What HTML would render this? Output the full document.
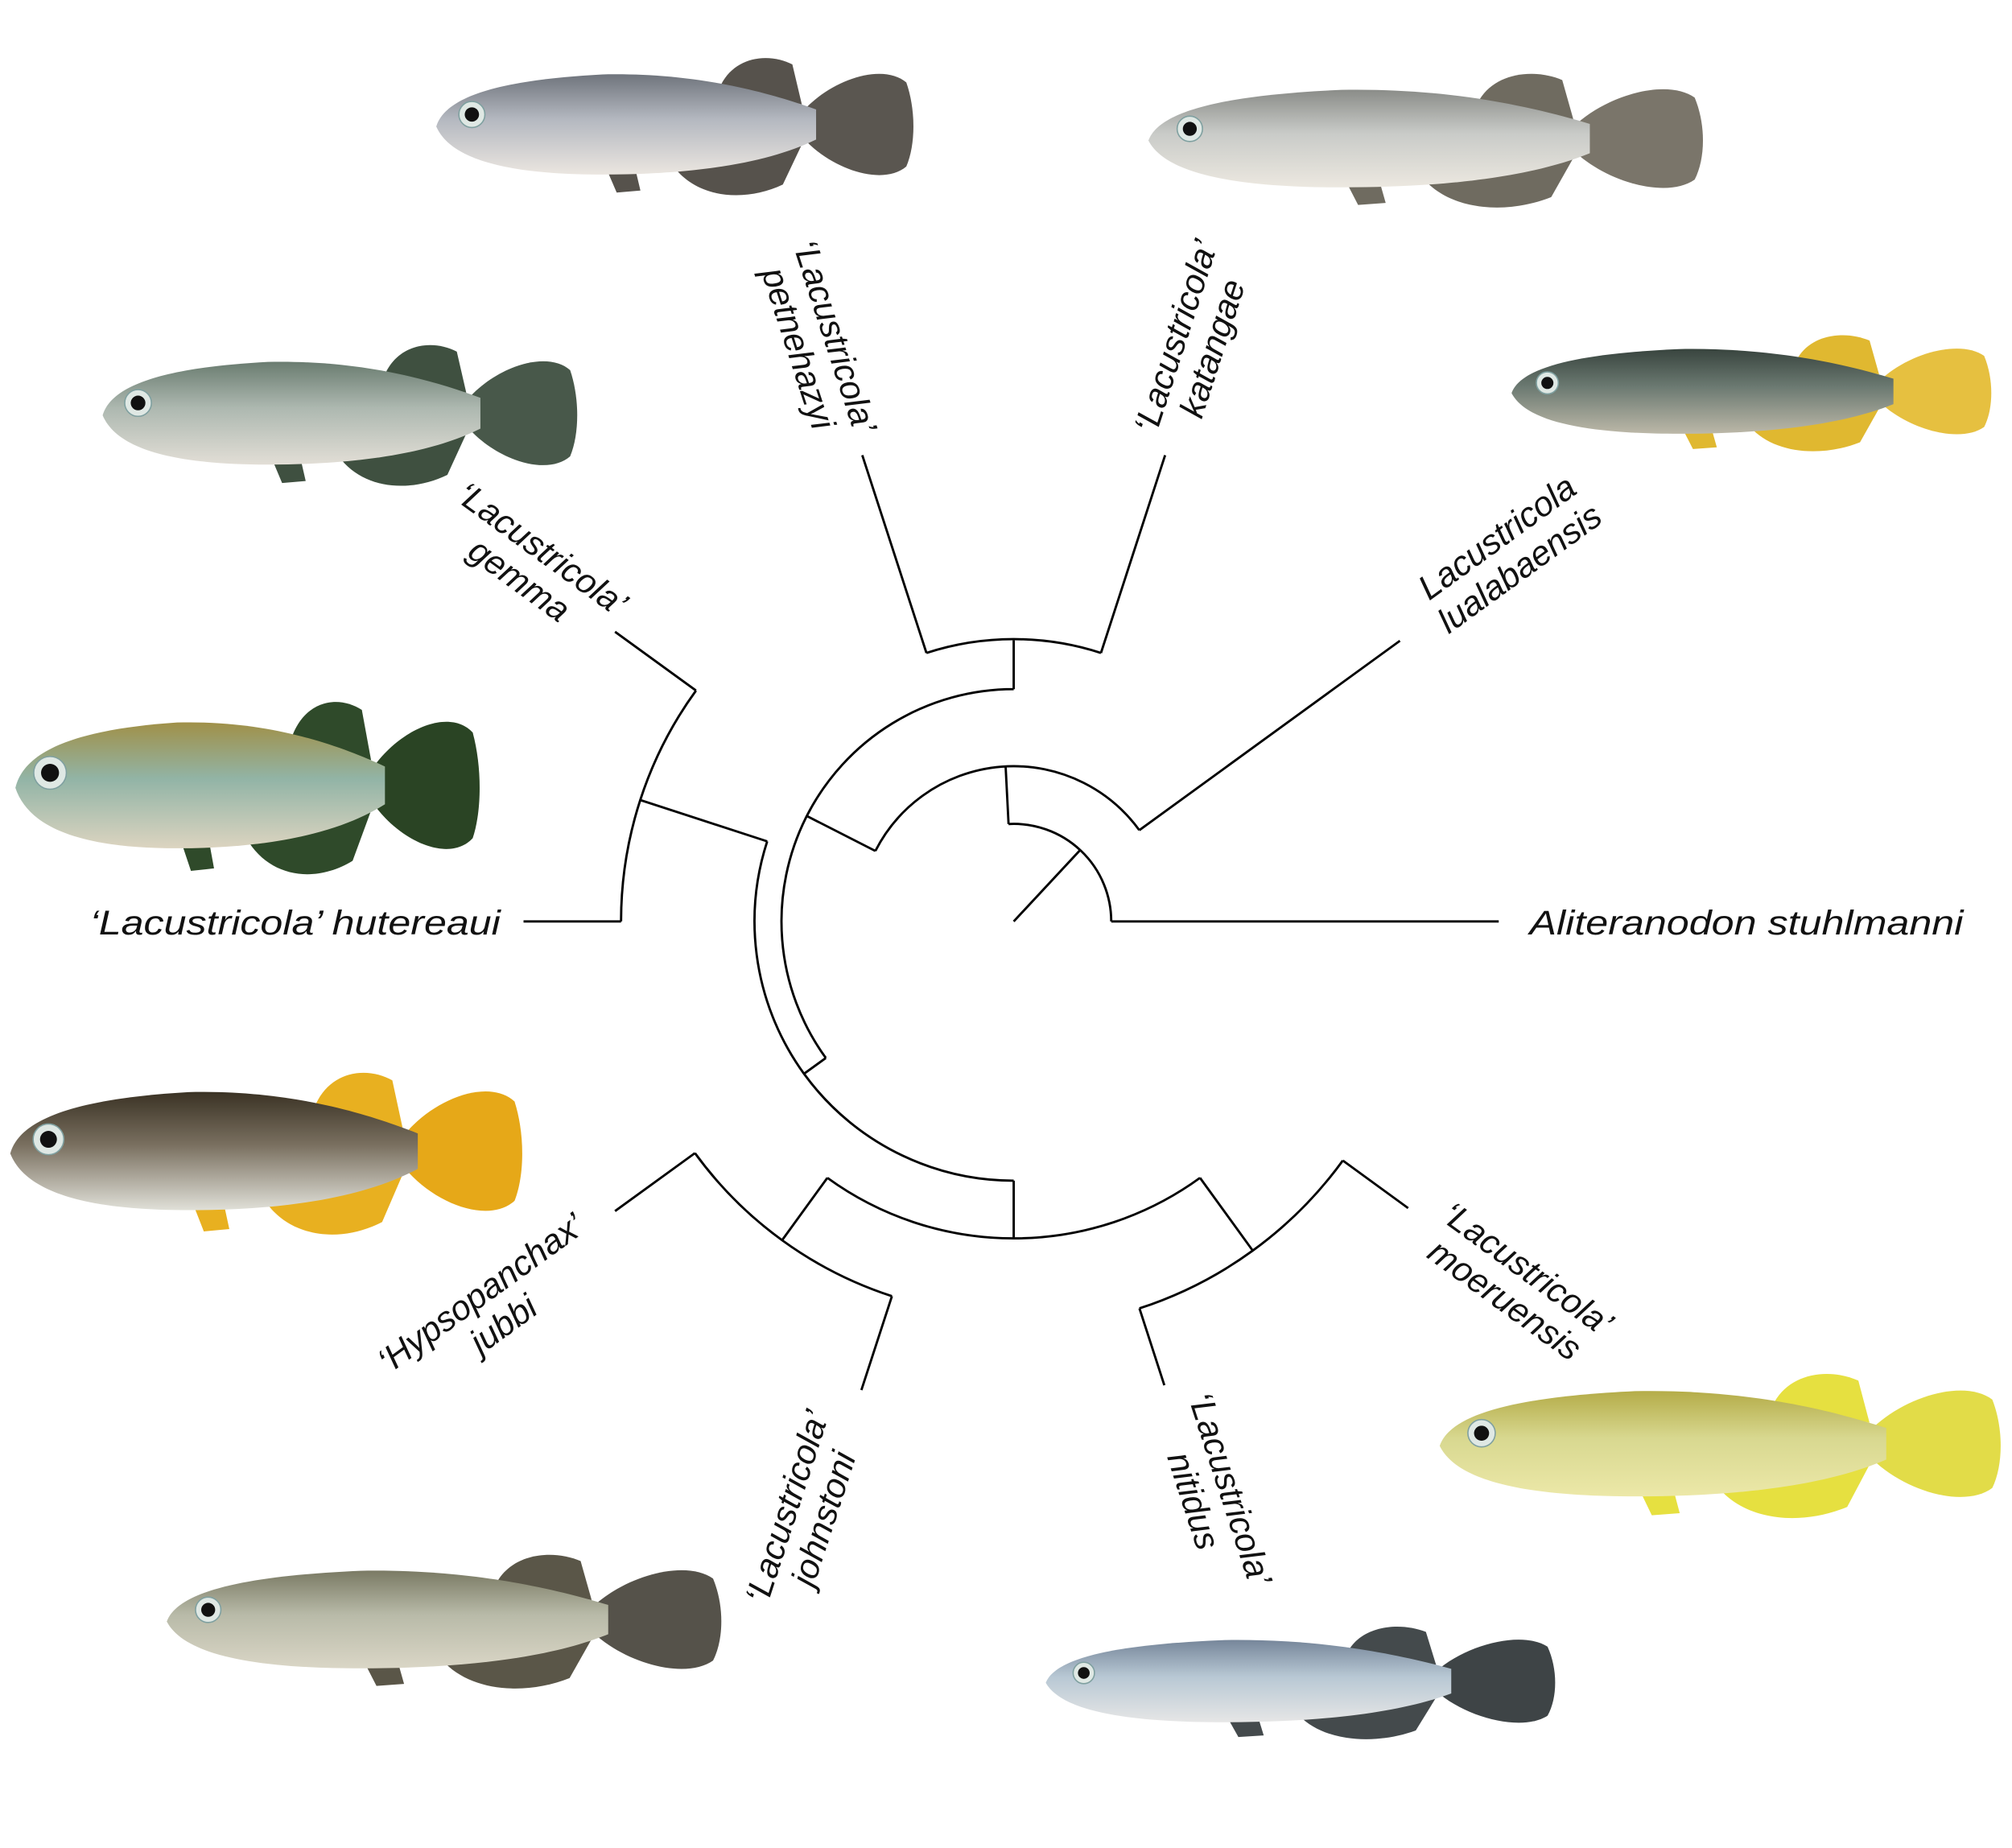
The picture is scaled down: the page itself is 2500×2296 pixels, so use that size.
<!DOCTYPE html>
<html><head><meta charset="utf-8"><style>
html,body{margin:0;padding:0;background:#fff;}
svg{display:block;}
text{font-family:"Liberation Sans",Arial,sans-serif;font-style:italic;fill:#111;}
</style></head><body>
<svg id="s" width="2500" height="2296" viewBox="0 0 1568 1440" preserveAspectRatio="none" xmlns="http://www.w3.org/2000/svg">
<defs id="d"></defs>
<g id="fish"></g>
<g id="tree" fill="none" stroke="#000" stroke-width="1.8" stroke-linejoin="miter"></g>
<g font-size="27">
<text x="1192" y="728" textLength="338" lengthAdjust="spacingAndGlyphs">Aliteranodon stuhlmanni</text>
<text x="70" y="728" textLength="320" lengthAdjust="spacingAndGlyphs">‘Lacustricola’ hutereaui</text>
<text text-anchor="middle" transform="translate(925,265) rotate(-72)"><tspan x="0" y="0">‘Lacustricola’</tspan><tspan x="0" y="30">katangae</tspan></text>
<text text-anchor="middle" transform="translate(642,265) rotate(72)"><tspan x="0" y="0">‘Lacustricola’</tspan><tspan x="0" y="30">petnehazyi</tspan></text>
<text text-anchor="middle" transform="translate(417,435) rotate(36)"><tspan x="0" y="0">‘Lacustricola’</tspan><tspan x="0" y="30">gemma</tspan></text>
<text text-anchor="middle" transform="translate(1172,426) rotate(-36)"><tspan x="0" y="0">Lacustricola</tspan><tspan x="0" y="30">lualabaensis</tspan></text>
<text text-anchor="middle" transform="translate(380,1015) rotate(-36)"><tspan x="0" y="0">‘Hypsopanchax’</tspan><tspan x="0" y="30">jubbi</tspan></text>
<text text-anchor="middle" transform="translate(622,1177) rotate(-72)"><tspan x="0" y="0">‘Lacustricola’</tspan><tspan x="0" y="30">johnstoni</tspan></text>
<text text-anchor="middle" transform="translate(950,1163) rotate(72)"><tspan x="0" y="0">‘Lacustricola’</tspan><tspan x="0" y="30">nitidus</tspan></text>
<text text-anchor="middle" transform="translate(1185,996) rotate(36)"><tspan x="0" y="0">‘Lacustricola’</tspan><tspan x="0" y="30">moeruensis</tspan></text>
</g>
</svg>
<script>
(function(){
var NS="http://www.w3.org/2000/svg";
var cx=790,cy=718;
function P(r,a){var t=a*Math.PI/180;return [cx+r*Math.cos(t),cy+r*Math.sin(t)];}
var d="";
function L(a,r1,r2){var p=P(r1,a),q=P(r2,a);d+="M"+p[0].toFixed(1)+","+p[1].toFixed(1)+"L"+q[0].toFixed(1)+","+q[1].toFixed(1);}
function A(r,a1,a2){var p=P(r,a1),q=P(r,a2);d+="M"+p[0].toFixed(1)+","+p[1].toFixed(1)+"A"+r+","+r+" 0 "+((a2-a1)>180?1:0)+" 1 "+q[0].toFixed(1)+","+q[1].toFixed(1);}
L(-47,0,76);A(76,-93,0);L(0,76,378);L(-93,76,121);
A(121,-153,-36);L(-36,121,372);L(-153,121,181);
A(181,144,270);L(-90,181,219);A(220,-108,-72);L(-108,220,382);L(-72,220,382);
L(144,181,202);A(202,90,198);L(198,202,306);A(306,180,216);L(180,306,382);L(216,306,384);
L(90,202,247);A(247,54,126);L(126,247,307);A(307,108,144);L(108,307,384);L(144,307,384);
L(54,247,317);A(317,36,72);L(36,317,380);L(72,317,380);
var pth=document.createElementNS(NS,"path");pth.setAttribute("d",d);document.getElementById("tree").appendChild(pth);

var defs=document.getElementById("d"),fg=document.getElementById("fish");
var fishes=[
[340,710,97,78,"#6f747c","#b4b8c0","#ebe6e0","#56524c","#5a5650"],
[895,1325,108,76,"#8a8c88","#c9cbc8","#ece8e0","#6f6b60","#7a756a"],
[80,448,322,80,"#6a7c70","#adb8b0","#e2ded6","#3f5040","#48584a"],
[1178,1550,305,66,"#38443e","#6c7a72","#bcb8a8","#e0b830","#e6c040"],
[12,372,612,98,"#a09048","#92b4a6","#dcd4c0","#2f4a2a","#2a4424"],
[8,405,897,92,"#3a3224","#7a7060","#e0e0d8","#e8b020","#e6a818"],
[1122,1557,1125,82,"#b4ac48","#d8d890","#ece8a8","#e6e040","#e2dc48"],
[130,560,1262,76,"#7a7a64","#b8baa8","#dad6c6","#5a5648","#55524a"],
[815,1210,1310,64,"#76869a","#b8c8d4","#e6e6e6","#444a4c","#3e4446"]
];
var body="M0,0.02 C0.02,-0.3 0.15,-0.45 0.35,-0.5 C0.55,-0.52 0.7,-0.32 0.8,-0.15 L0.8,0.15 C0.7,0.38 0.55,0.5 0.35,0.5 C0.15,0.5 0.03,0.35 0,0.02 Z";
var tail="M0.77,-0.12 C0.83,-0.45 0.94,-0.62 0.99,-0.42 C1.01,-0.15 1.01,0.2 0.99,0.42 C0.94,0.62 0.83,0.45 0.77,0.12 Z";
var dors="M0.6,-0.4 C0.63,-0.68 0.7,-0.72 0.75,-0.6 L0.77,-0.2 Z";
var anal="M0.5,0.42 C0.55,0.74 0.65,0.78 0.73,0.6 L0.77,0.2 Z";
var vent="M0.36,0.46 L0.38,0.68 L0.43,0.66 L0.42,0.46 Z";
var html="";
fishes.forEach(function(f,i){
 var g='<linearGradient id="g'+i+'" x1="0" y1="0" x2="0" y2="1"><stop offset="0" stop-color="'+f[4]+'"/><stop offset="0.45" stop-color="'+f[5]+'"/><stop offset="1" stop-color="'+f[6]+'"/></linearGradient>';
 defs.insertAdjacentHTML("beforeend",g);
 var Ln=f[1]-f[0],h=f[3];
 var tr='transform="matrix('+Ln+',0,0,'+h+','+f[0]+','+f[2]+')"';
 html+='<path d="'+tail+'" fill="'+f[8]+'" '+tr+'/>';
 html+='<path d="'+dors+'" fill="'+f[7]+'" '+tr+'/>';
 html+='<path d="'+anal+'" fill="'+f[7]+'" '+tr+'/>';
 html+='<path d="'+vent+'" fill="'+f[7]+'" '+tr+'/>';
 html+='<path d="'+body+'" fill="url(#g'+i+')" '+tr+'/>';
 var ex=f[0]+0.075*Ln,ey=f[2]-0.1*h,er=0.13*h;
 html+='<circle cx="'+ex+'" cy="'+ey+'" r="'+er+'" fill="#dfe8e4" stroke="#7fa0a0" stroke-width="1"/>';
 html+='<circle cx="'+ex+'" cy="'+ey+'" r="'+(er*0.55)+'" fill="#111"/>';
});
fg.innerHTML=html;
})();
</script>
</body></html>
